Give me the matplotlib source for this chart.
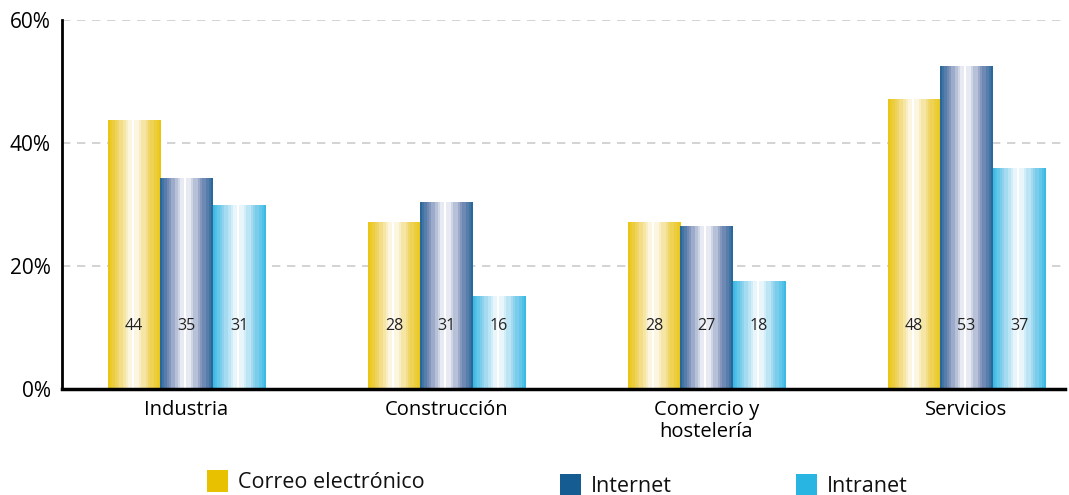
import numpy as np
import matplotlib
matplotlib.use('Agg')
import matplotlib.pyplot as plt
from matplotlib.colors import LinearSegmentedColormap
from matplotlib.patches import Rectangle

plt.rcParams['font.family'] = ['Open Sans', 'DejaVu Sans']

categories = ['Industria', 'Construcción', 'Comercio y\nhostelería', 'Servicios']
series = ['Correo electrónico', 'Internet', 'Intranet']
# bar heights (%), and the numbers printed on the bars
correo = [43.7, 27.0, 27.0, 47.0]
internet = [34.3, 30.4, 26.5, 52.5]
intranet = [29.9, 15.0, 17.4, 35.9]
correo_lbl = [44, 28, 28, 48]
internet_lbl = [35, 31, 27, 53]
intranet_lbl = [31, 16, 18, 37]

colors = ['#E8C200', '#145C92', '#28B5E1']
mids = ['#F0D66A', '#8596BD', '#8ED3EE']

fig = plt.figure(figsize=(10.69, 4.95), dpi=100)
ax = fig.add_axes([62/1069, 1-389/495, 1003/1069, 369/495])

width = 0.202
x = np.arange(len(categories))
cols = 24
t = (np.arange(cols) + 0.5) / cols
prof = np.where(t < 0.47, t / 0.47, (1 - t) / 0.53)  # 0 at edges, 1 in the middle
prof = np.round(prof ** 0.8 * 10) / 10

data = [correo, internet, intranet]
labels = [correo_lbl, internet_lbl, intranet_lbl]
for i, (vals, lbls) in enumerate(zip(data, labels)):
    cmap = LinearSegmentedColormap.from_list('g%d' % i, [colors[i], mids[i], '#FFFFFF'])
    img = prof[np.newaxis, :]
    for xi, v, l in zip(x, vals, lbls):
        x0 = xi + (i - 1.5) * width
        ax.imshow(img, cmap=cmap, vmin=0, vmax=1, aspect='auto', interpolation='nearest',
                  extent=(x0, x0 + width, 0, v), zorder=2)
        ax.text(x0 + width / 2, 10.3, str(l), ha='center', va='center', fontsize=11.5, color='#222222', zorder=3)

ax.set_xlim(-0.479, 3.379)
ax.set_ylim(0, 60)
ax.set_yticks([0, 20, 40, 60])
ax.set_yticklabels(['0%', '20%', '40%', '60%'], fontsize=15)
ax.set_xticks(x)
ax.set_xticklabels(categories, fontsize=14.5, linespacing=1.15)
ax.tick_params(length=0, pad=8)
ax.tick_params(axis='x', pad=8)
ax.grid(axis='y', color='#CCCCCC', linestyle=(0, (5, 4)), linewidth=1.2, zorder=0)
ax.set_axisbelow(True)
for s in ['top', 'right']:
    ax.spines[s].set_visible(False)
ax.spines['left'].set_linewidth(2)
ax.spines['bottom'].set_linewidth(2.5)

# legend drawn by hand, like the original
leg = [(207, 470, 238), (560, 474, 591), (796, 474, 827)]
for (sx, sy, tx), c, name in zip(leg, colors, series):
    fig.add_artist(Rectangle((sx/1069, 1-(sy+22)/495), 21/1069, 22/495, transform=fig.transFigure,
                             facecolor=c, edgecolor='none'))
    fig.text(tx/1069, 1-(sy+12)/495, name, fontsize=15.5, va='center', ha='left', color='#111111')

fig.savefig('out.png', dpi=100)
